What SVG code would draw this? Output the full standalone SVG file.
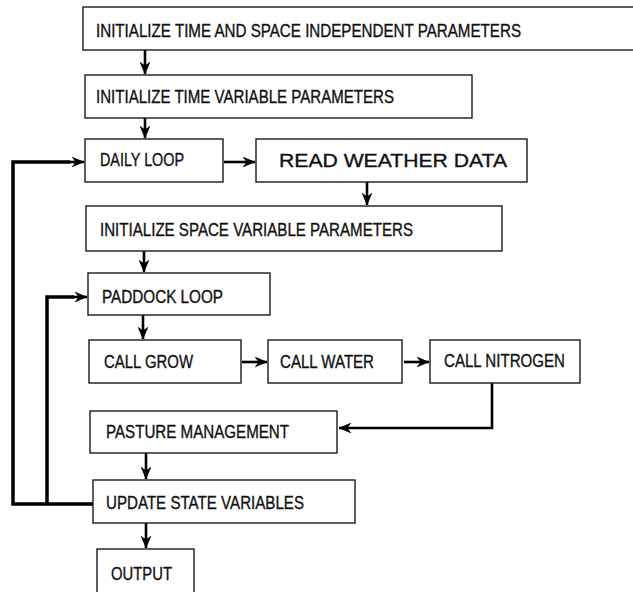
<svg xmlns="http://www.w3.org/2000/svg" width="633" height="592" viewBox="0 0 633 592">
<style>
  .box { fill: #ffffff; stroke: #1a1a1a; stroke-width: 1.4; }
  .lbl { font-family: "Liberation Sans", Arial, sans-serif; font-size: 18px; fill: #111111; stroke: #111111; stroke-width: 0.35; }
  .big { font-size: 19px; }
  .conn { fill: none; stroke: #000000; stroke-width: 2.6; marker-end: url(#arr); }
  .loop { fill: none; stroke: #000000; stroke-width: 3.5; stroke-linejoin: miter; }
</style>
<defs>
  <marker id="arr" markerUnits="userSpaceOnUse" viewBox="0 0 13 11" refX="12.5" refY="5.5" markerWidth="13" markerHeight="11" orient="auto">
    <path d="M0,0 L13,5.5 L0,11 L4,5.5 z" fill="#000000"/>
  </marker>
</defs>
<rect width="633" height="592" fill="#ffffff"/>

<g id="connectors">
  <path class="conn" d="M145,50 L145,74"/>
  <path class="conn" d="M145,118 L145,138"/>
  <path class="conn" d="M224,162 L255,162"/>
  <path class="conn" d="M367,182 L367,205"/>
  <path class="conn" d="M144,251 L144,272"/>
  <path class="conn" d="M143,315 L143,339"/>
  <path class="conn" d="M242,362 L267,362"/>
  <path class="conn" d="M404,362 L429,362"/>
  <path class="conn" d="M492,383 L492,428 L339,428"/>
  <path class="conn" d="M146,453 L146,479"/>
  <path class="conn" d="M146,523 L146,548"/>
  <path class="loop" d="M93,504 L13,504 L13,162 L70,162"/>
  <path class="conn" d="M68,162 L84,162"/>
  <path class="loop" d="M47,504 L47,297 L74,297"/>
  <path class="conn" d="M72,297 L87,297"/>
</g>

<g id="n1">
  <rect class="box" x="83" y="7" width="560" height="43"/>
  <text class="lbl" x="96" y="37" textLength="425" lengthAdjust="spacingAndGlyphs">INITIALIZE TIME AND SPACE INDEPENDENT PARAMETERS</text>
</g>
<g id="n2">
  <rect class="box" x="85" y="75" width="387" height="43"/>
  <text class="lbl" x="96" y="103" textLength="298" lengthAdjust="spacingAndGlyphs">INITIALIZE TIME VARIABLE PARAMETERS</text>
</g>
<g id="n3">
  <rect class="box" x="85" y="139" width="138" height="43"/>
  <text class="lbl" x="100" y="166" textLength="84" lengthAdjust="spacingAndGlyphs">DAILY LOOP</text>
</g>
<g id="n4">
  <rect class="box" x="256" y="139" width="271" height="43"/>
  <text class="lbl big" x="279" y="167" textLength="228" lengthAdjust="spacingAndGlyphs">READ WEATHER DATA</text>
</g>
<g id="n5">
  <rect class="box" x="86" y="206" width="416" height="45"/>
  <text class="lbl" x="100" y="236" textLength="313" lengthAdjust="spacingAndGlyphs">INITIALIZE SPACE VARIABLE PARAMETERS</text>
</g>
<g id="n6">
  <rect class="box" x="88" y="273" width="182" height="42"/>
  <text class="lbl" x="102" y="303" textLength="121" lengthAdjust="spacingAndGlyphs">PADDOCK LOOP</text>
</g>
<g id="n7">
  <rect class="box" x="89" y="340" width="152" height="43"/>
  <text class="lbl" x="104" y="368" textLength="89" lengthAdjust="spacingAndGlyphs">CALL GROW</text>
</g>
<g id="n8">
  <rect class="box" x="268" y="340" width="134" height="43"/>
  <text class="lbl" x="280" y="368" textLength="94" lengthAdjust="spacingAndGlyphs">CALL WATER</text>
</g>
<g id="n9">
  <rect class="box" x="430" y="340" width="150" height="43"/>
  <text class="lbl" x="444" y="367" textLength="121" lengthAdjust="spacingAndGlyphs">CALL NITROGEN</text>
</g>
<g id="n10">
  <rect class="box" x="90" y="411" width="247" height="42"/>
  <text class="lbl" x="106" y="438" textLength="183" lengthAdjust="spacingAndGlyphs">PASTURE MANAGEMENT</text>
</g>
<g id="n11">
  <rect class="box" x="93" y="480" width="262" height="43"/>
  <text class="lbl" x="106" y="509" textLength="198" lengthAdjust="spacingAndGlyphs">UPDATE STATE VARIABLES</text>
</g>
<g id="n12">
  <rect class="box" x="97" y="549" width="97" height="55"/>
  <text class="lbl" x="111" y="580" textLength="61" lengthAdjust="spacingAndGlyphs">OUTPUT</text>
</g>
</svg>
